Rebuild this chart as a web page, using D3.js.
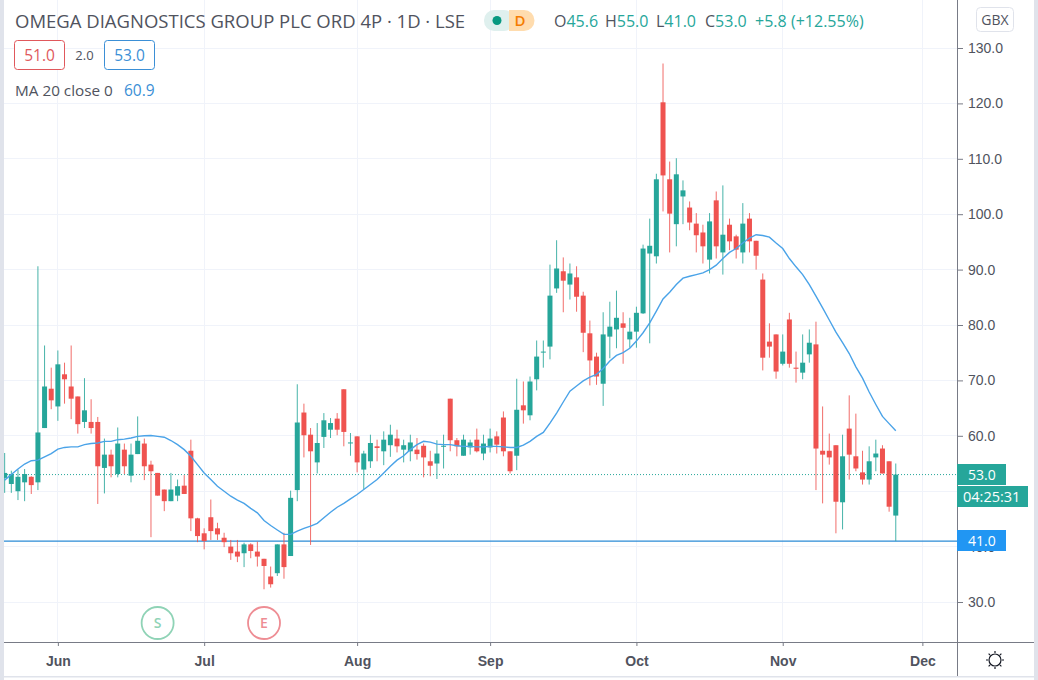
<!DOCTYPE html>
<html>
<head>
<meta charset="utf-8">
<script src="https://cdnjs.cloudflare.com/ajax/libs/d3/7.8.5/d3.min.js"></script>
<style>
  html, body { margin: 0; padding: 0; background: #fff; overflow: hidden; }
  svg { display: block; font-family: "Open Sans", "Noto Sans", sans-serif; }
  .axis text { font-size: 14px; fill: #50535e; }
  .axis .domain { display: none; }
  .grid line { stroke: #f0f3fa; stroke-width: 1; }
</style>
</head>
<body>
<div id="chart"></div>
<script>
const opens = [52.4,51.3,50.0,51.6,52.6,51.6,61.4,68.5,65.3,71.1,68.9,67.1,62.5,62.5,62.5,54.2,56.6,53.1,57.5,52.8,56.7,58.6,54.8,53.3,50.3,48.2,49.2,51.0,57.3,45.1,42.4,45.3,43.3,41.6,40.0,39.1,38.8,40.4,39.1,37.8,34.6,35.2,40.4,38.3,50.2,64.2,60.2,55.2,59.8,61.1,63.1,68.4,58.7,59.9,53.9,55.4,58.1,57.2,58.3,59.5,57.5,57.2,57.5,58.2,55.4,55.0,58.1,66.7,59.2,56.4,57.9,59.3,56.8,57.9,59.9,63.3,57.2,56.4,65.5,63.7,70.2,75.1,76.1,86.6,89.7,87.3,88.6,85.3,78.5,74.3,69.4,77.9,79.2,80.3,77.4,78.8,82.1,92.9,92.4,120.2,106.3,98.2,103.2,101.2,98.3,96.7,91.8,102.5,93.1,98.1,96.0,93.1,99.2,95.2,88.2,77.0,78.3,73.0,81.0,72.3,71.4,74.7,76.5,57.3,57.3,58.3,48.0,61.3,56.3,53.4,52.1,56.1,57.7,55.4,45.6];
const highs = [56.9,53.7,53.9,54.0,52.7,90.6,76.3,72.3,75.4,73.2,76.3,67.1,70.4,66.6,63.4,59.5,57.5,61.5,58.6,58.6,63.5,59.5,55.5,53.3,50.3,53.3,52.1,52.9,59.3,45.2,43.3,48.5,44.3,42.5,41.2,41.2,40.7,40.6,40.9,37.8,36.4,40.4,42.5,50.1,69.3,65.8,61.4,62.3,64.1,63.2,64.1,68.4,60.5,59.9,57.3,60.2,59.3,60.8,62.0,61.1,59.3,60.2,59.6,58.6,57.3,59.2,60.2,66.7,59.6,60.2,59.3,61.3,60.2,61.3,60.8,64.4,57.2,70.3,69.8,70.7,77.2,77.2,90.9,95.3,92.2,91.1,90.6,86.0,80.8,75.0,82.3,84.2,86.2,82.3,81.3,83.3,94.5,99.2,107.3,127.2,109.5,110.1,106.1,102.3,100.2,98.1,100.2,104.1,105.2,99.2,96.3,102.0,100.2,95.2,89.3,80.3,78.3,78.3,82.2,75.2,78.3,79.2,80.6,65.3,60.4,58.3,60.2,67.3,64.0,57.3,58.1,59.3,58.3,55.4,55.0];
const lows = [49.7,49.7,48.4,48.2,49.5,50.2,61.4,64.8,62.7,65.8,63.0,60.4,61.4,60.4,47.7,49.6,52.5,52.5,53.1,51.6,56.7,52.0,41.7,49.2,46.4,48.2,48.2,49.5,42.8,40.8,39.5,41.2,41.2,39.9,37.6,37.2,36.3,37.9,36.4,32.3,32.6,34.7,34.2,38.3,48.2,56.1,40.3,53.2,57.8,59.6,60.1,58.1,56.4,53.4,50.4,54.2,55.4,54.7,56.2,57.0,55.2,55.4,55.7,52.5,52.7,52.2,54.1,57.2,56.3,56.4,56.6,57.0,55.6,57.0,56.8,56.3,53.2,53.8,62.2,62.8,68.2,72.3,73.8,85.8,82.3,84.6,82.4,75.1,69.1,69.2,65.4,74.0,75.8,73.0,75.9,75.9,82.0,76.7,91.1,100.5,93.1,94.2,98.2,97.1,93.1,91.1,89.3,92.0,89.1,93.5,92.0,91.1,93.1,90.0,71.8,74.1,70.3,72.7,72.3,69.6,70.2,73.2,50.2,47.8,54.8,42.4,43.1,52.1,53.6,51.2,51.2,53.6,53.2,46.3,41.0];
const closes = [53.3,53.1,52.6,53.1,51.1,60.6,68.9,66.4,72.9,70.2,66.7,62.1,64.6,61.4,54.5,56.6,54.5,58.6,54.5,56.6,59.1,54.5,53.6,49.2,48.2,50.3,50.9,49.5,45.1,41.9,41.0,42.8,42.2,40.8,38.8,38.2,40.4,39.2,38.2,36.5,33.2,40.4,36.3,48.8,62.4,60.1,57.2,58.7,62.8,62.3,61.1,60.7,58.8,55.2,56.8,58.7,57.8,59.3,60.2,58.1,58.3,58.8,56.7,56.1,54.6,56.8,58.2,59.2,58.1,59.3,58.8,57.2,58.6,59.5,58.4,57.2,53.6,64.7,64.6,69.8,74.3,75.2,85.3,90.2,88.0,89.3,85.1,78.6,73.6,70.7,78.3,79.7,81.3,79.5,78.8,82.2,93.8,94.3,106.3,107.0,100.1,107.2,104.3,98.5,96.2,94.2,98.7,94.2,96.3,95.1,93.6,98.3,95.1,92.5,74.1,76.1,71.6,75.2,73.0,72.1,73.2,76.8,57.7,56.6,56.1,48.1,56.3,56.6,54.1,52.1,55.4,56.8,53.2,47.2,53.0];
const ma20 = [52.0,53.0,54.0,54.9,55.5,55.6,56.2,56.8,57.6,57.9,58.0,58.0,58.4,58.6,58.7,59.0,59.0,59.3,59.4,59.6,59.9,60.0,60.05,59.9,59.75,59.15,58.4,57.5,56.3,54.8,53.3,52.1,50.9,50.0,49.1,48.4,47.8,46.9,46.1,44.7,43.8,43.0,42.2,42.2,42.8,43.3,43.7,44.2,45.2,46.2,47.1,47.8,48.6,49.4,50.3,51.2,52.1,53.3,54.5,55.6,56.4,57.5,58.4,59.0,58.85,58.5,58.4,58.4,58.2,58.1,58.1,58.0,58.0,58.1,58.1,58.0,57.9,57.9,58.3,59.0,59.9,60.6,62.3,64.1,66.1,68.05,69.0,69.9,70.6,71.1,72.15,73.5,74.5,75.0,75.8,77.1,78.6,80.4,82.5,84.7,85.9,87.3,88.45,88.8,89.1,89.4,90.0,90.8,92.0,93.1,93.8,94.8,95.7,96.3,96.15,95.85,94.8,93.8,92.0,90.5,89.1,87.3,85.2,83.1,80.9,78.7,76.8,74.85,72.45,70.4,67.9,65.65,63.5,62.2,60.9];

const monthLabels = ['Jun','Jul','Aug','Sep','Oct','Nov','Dec'];
const monthBars = [8,30,53,73,95,117,138];
const priceTicks = [30,40,50,60,70,80,90,100,110,120,130];
const quoteLabels = ['O','H','L','C'];
const quoteValues = ['45.6','55.0','41.0','53.0'];
const quoteChange = ['+5.8','(+12.55%)'];

const W = 1038, H = 680;
const plot = { left: 4, right: 957, top: 0, bottom: 642 };

/* bar index -> pixel, 6.65px per trading day */
const x = d3.scaleLinear().domain([0, 138]).range([4.67, 922.37]);
const y = d3.scaleLinear().domain([30, 130]).range([602, 48]);

const green = '#26a69a', red = '#ef5350', blue = '#2196f3', text = '#50535e', frame = '#e0e3eb';

const svg = d3.select('#chart').append('svg').attr('width', W).attr('height', H);

svg.append('clipPath').attr('id', 'plotclip').append('rect')
    .attr('x', plot.left).attr('y', plot.top)
    .attr('width', plot.right - plot.left).attr('height', plot.bottom - plot.top);

/* Grid */
const grid = svg.append('g').attr('class', 'grid').attr('shape-rendering', 'crispEdges');
grid.selectAll('.h').data(priceTicks).join('line')
    .attr('class', 'h')
    .attr('x1', plot.left).attr('x2', plot.right)
    .attr('y1', d => y(d)).attr('y2', d => y(d));
grid.selectAll('.v').data(monthBars).join('line')
    .attr('class', 'v')
    .attr('x1', d => x(d)).attr('x2', d => x(d))
    .attr('y1', plot.top).attr('y2', plot.bottom);

const chart = svg.append('g').attr('clip-path', 'url(#plotclip)');

/* Last price and low lines */
chart.append('line')
    .attr('x1', plot.left).attr('x2', plot.right)
    .attr('y1', y(53)).attr('y2', y(53))
    .attr('stroke', green).attr('stroke-dasharray', '1 2');
chart.append('line')
    .attr('x1', plot.left).attr('x2', plot.right)
    .attr('y1', y(41)).attr('y2', y(41))
    .attr('stroke', '#2b8bd6').attr('stroke-width', 1.2);

/* Candles */
const candles = chart.selectAll('.candle').data(d3.range(opens.length)).join('g')
    .attr('class', 'candle')
    .attr('fill', i => closes[i] >= opens[i] ? green : red)
    .attr('stroke', i => closes[i] >= opens[i] ? green : red);
candles.append('line')
    .attr('x1', i => x(i)).attr('x2', i => x(i))
    .attr('y1', i => y(highs[i])).attr('y2', i => y(lows[i]))
    .attr('stroke-width', 1).attr('stroke-opacity', 0.85);
candles.append('rect')
    .attr('x', i => x(i) - 2.5)
    .attr('width', 5)
    .attr('y', i => y(Math.max(opens[i], closes[i])))
    .attr('height', i => Math.max(1, Math.abs(y(opens[i]) - y(closes[i]))))
    .attr('stroke', 'none');

/* Moving average */
const maLine = d3.line().x((d, i) => x(i)).y(d => y(d));
chart.append('path').datum(ma20)
    .attr('d', maLine)
    .attr('fill', 'none')
    .attr('stroke', '#4aa3e8')
    .attr('stroke-width', 1.4);

/* Session markers */
const markers = [{ label: 'S', bar: 23, color: '#8fd3b6' }, { label: 'E', bar: 39, color: '#ee8d94' }];
const marker = svg.selectAll('.marker').data(markers).join('g').attr('class', 'marker')
    .attr('transform', d => 'translate(' + x(d.bar) + ',623)');
marker.append('circle').attr('r', 16).attr('fill', '#fff').attr('stroke', d => d.color).attr('stroke-width', 1.8);
marker.append('text').attr('text-anchor', 'middle').attr('dy', 5).attr('font-size', 14).attr('font-weight', 600)
    .attr('fill', d => d.color).text(d => d.label);

/* Axes, 50.0 sits under the countdown tag so it gets no label */
const yAxis = svg.append('g').attr('class', 'axis').attr('transform', 'translate(' + plot.right + ',0)')
    .call(d3.axisRight(y).tickValues(priceTicks.filter(d => d !== 50)).tickFormat(d3.format('.1f')).tickSize(6).tickPadding(5));
yAxis.selectAll('.tick line').attr('stroke', '#787b86');

const xAxis = svg.append('g').attr('class', 'axis').attr('transform', 'translate(0,' + plot.bottom + ')')
    .call(d3.axisBottom(x).tickValues(monthBars).tickFormat((d, i) => monthLabels[i]).tickSize(4).tickPadding(10));
xAxis.selectAll('.tick line').attr('stroke', '#787b86');
xAxis.selectAll('.tick text').attr('font-weight', 600);

svg.append('line').attr('x1', plot.left).attr('x2', 1034).attr('y1', plot.bottom).attr('y2', plot.bottom)
    .attr('stroke', '#787b86').attr('shape-rendering', 'crispEdges');
svg.append('line').attr('x1', plot.right).attr('x2', plot.right).attr('y1', 0).attr('y2', 676)
    .attr('stroke', '#787b86').attr('shape-rendering', 'crispEdges');

/* Frame around the widget */
svg.append('rect').attr('x', 0).attr('y', 0).attr('width', plot.left).attr('height', H).attr('fill', frame);
svg.append('rect').attr('x', 1034).attr('y', 0).attr('width', 4).attr('height', H).attr('fill', frame);
svg.append('rect').attr('x', plot.left).attr('y', 676).attr('width', 1030).attr('height', 1.5).attr('fill', frame);

/* Price labels */
function priceTag(y0, w, fill, label) {
    svg.append('rect').attr('x', plot.right).attr('y', y0).attr('width', w).attr('height', 21).attr('fill', fill);
    svg.append('text').attr('x', plot.right + (w > 50 ? 6 : 11)).attr('y', y0 + 15.5)
        .attr('font-size', w > 50 ? 14.5 : 14).attr('fill', '#fff').text(label);
}
priceTag(464, 49, green, '53.0');
priceTag(486, 71, green, '04:25:31');
priceTag(530, 49, blue, '41.0');

/* Currency button */
svg.append('rect').attr('x', 976.5).attr('y', 7.5).attr('width', 37).attr('height', 24).attr('rx', 4)
    .attr('fill', '#fff').attr('stroke', '#e0e3eb');
svg.append('text').attr('x', 995).attr('y', 24.5).attr('text-anchor', 'middle').attr('font-size', 14)
    .attr('fill', text).text('GBX');

/* Header */
svg.append('text').attr('x', 15).attr('y', 28).attr('font-size', 18.5).attr('fill', text)
    .text('OMEGA DIAGNOSTICS GROUP PLC ORD 4P · 1D · LSE');

svg.append('rect').attr('x', 484).attr('y', 10).attr('width', 30).attr('height', 21).attr('rx', 10).attr('fill', '#dff0ee');
svg.append('path').attr('d', 'M509,10H524a10.5,10.5 0 0 1 0,21H509Z').attr('fill', '#ffdcae');
svg.append('circle').attr('cx', 497).attr('cy', 20.5).attr('r', 4.5).attr('fill', '#089981');
svg.append('text').attr('x', 520).attr('y', 26).attr('text-anchor', 'middle').attr('font-size', 15).attr('font-weight', 600)
    .attr('fill', '#f57c00').text('D');

/* OHLC readout: grey letter then teal value */
const quoteX = [554, 605, 656, 705];
const quote = svg.append('text').attr('y', 27).attr('font-size', 16);
quoteLabels.forEach((l, i) => {
    quote.append('tspan').attr('x', quoteX[i]).attr('fill', text).text(l);
    quote.append('tspan').attr('fill', green).text(quoteValues[i]);
});
quote.append('tspan').attr('x', 755).attr('fill', green).text(quoteChange[0]);
quote.append('tspan').attr('x', 791).attr('fill', green).text(quoteChange[1]);

function quoteBox(x0, color, label) {
    svg.append('rect').attr('x', x0 + 0.5).attr('y', 40.5).attr('width', 50).attr('height', 29).attr('rx', 3)
        .attr('fill', '#fff').attr('stroke', color);
    svg.append('text').attr('x', x0 + 25.5).attr('y', 61).attr('text-anchor', 'middle').attr('font-size', 15.5)
        .attr('fill', color).text(label);
}
quoteBox(14, '#e0585c', '51.0');
quoteBox(104, '#3b8fd6', '53.0');
svg.append('text').attr('x', 84.5).attr('y', 60).attr('text-anchor', 'middle').attr('font-size', 13)
    .attr('fill', text).text('2.0');

svg.append('text').attr('x', 15).attr('y', 96).attr('font-size', 15.3).attr('fill', text).text('MA 20 close 0');
svg.append('text').attr('x', 124).attr('y', 96).attr('font-size', 15.5).attr('fill', '#3b8fd6').text('60.9');

/* Theme icon */
const sun = svg.append('g').attr('transform', 'translate(995,660)').attr('fill', 'none').attr('stroke', '#131722');
sun.append('circle').attr('r', 6).attr('stroke-width', 1.2);
sun.selectAll('line').data(d3.range(8)).join('line')
    .attr('y1', -7).attr('y2', -9).attr('stroke-width', 1.2)
    .attr('transform', d => 'rotate(' + d * 45 + ')');
</script>
</body>
</html>
